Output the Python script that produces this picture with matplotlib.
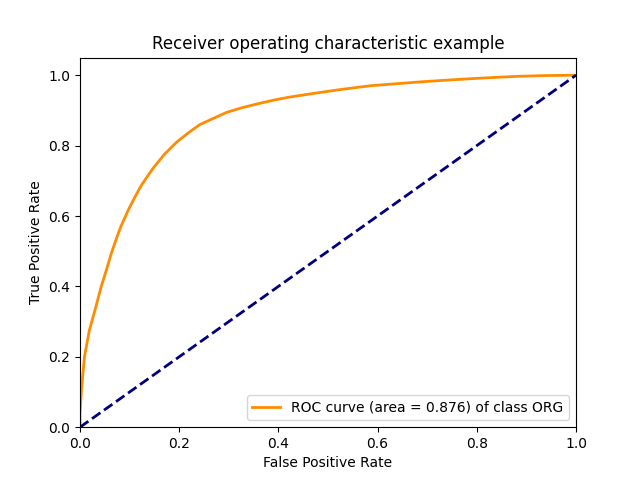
import numpy as np
import matplotlib
matplotlib.use("Agg")
import matplotlib.pyplot as plt

# ROC points
fpr = [0.0, 0.0, 0.0034, 0.009, 0.019, 0.032, 0.042, 0.050, 0.056, 0.063, 0.069,
       0.077, 0.083, 0.097, 0.110, 0.124, 0.147, 0.170, 0.195, 0.220, 0.242,
       0.270, 0.295, 0.325, 0.356, 0.390, 0.423, 0.470, 0.524, 0.585, 0.640,
       0.686, 0.740, 0.787, 0.840, 0.888, 0.940, 1.0]
tpr = [0.0, 0.04, 0.114, 0.200, 0.276, 0.342, 0.396, 0.432, 0.460, 0.493, 0.518,
       0.550, 0.572, 0.616, 0.652, 0.688, 0.735, 0.775, 0.810, 0.838, 0.860,
       0.878, 0.894, 0.907, 0.918, 0.929, 0.938, 0.948, 0.959, 0.970, 0.976,
       0.981, 0.986, 0.990, 0.994, 0.997, 0.999, 1.0]
roc_auc = 0.876
class_name = "ORG"

plt.figure(figsize=(6.4, 4.8), dpi=100)
lw = 2
plt.plot(fpr, tpr, color='darkorange', lw=lw,
         label='ROC curve (area = %0.3f) of class %s' % (roc_auc, class_name))
plt.plot([0, 1], [0, 1], color='navy', lw=lw, linestyle='--')
plt.xlim([0.0, 1.0])
plt.ylim([0.0, 1.05])
plt.xlabel('False Positive Rate')
plt.ylabel('True Positive Rate')
plt.title('Receiver operating characteristic example')
plt.legend(loc="lower right")
plt.savefig("out.png", dpi=100)
